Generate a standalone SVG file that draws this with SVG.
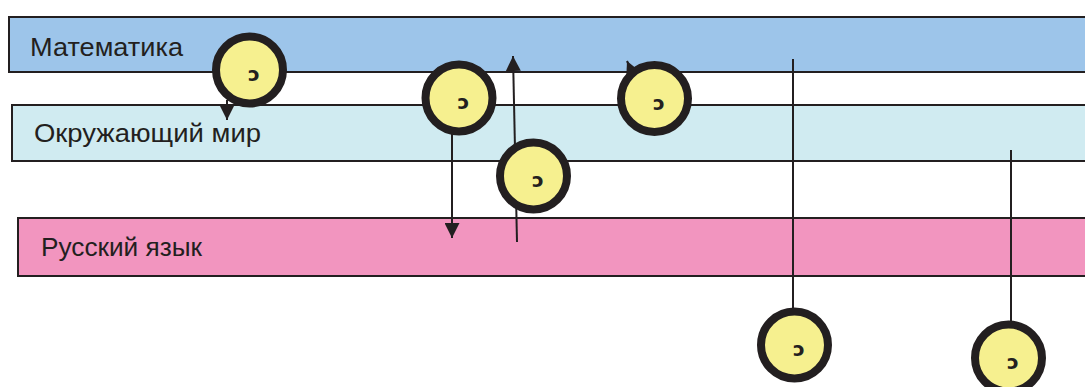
<svg xmlns="http://www.w3.org/2000/svg" width="1085" height="387" viewBox="0 0 1085 387">
<defs>
<style>
.band{stroke:#231f20;stroke-width:2}
.lbl{font-family:"Liberation Sans",Arial,sans-serif;font-size:26px;fill:#231f20}
.con{stroke:#231f20;stroke-width:2;fill:none}
.ring{fill:#f6f08f;stroke:#231f20;stroke-width:8}
.g{font-family:"DejaVu Sans",sans-serif;font-size:20px;font-weight:bold;fill:#231f20;text-anchor:middle}
</style>
<marker id="ah2" viewBox="0 0 10 10" refX="10" refY="5" markerWidth="15" markerHeight="15" markerUnits="userSpaceOnUse" orient="auto">
<path d="M0,0 L10,5 L0,10 z" fill="#231f20"/>
</marker>
</defs>
<rect width="1085" height="387" fill="#ffffff"/>
<g id="band-math">
<rect class="band" x="9" y="17" width="1090" height="55" fill="#9dc5ea"/>
<text class="lbl" x="30" y="56" textLength="153" lengthAdjust="spacingAndGlyphs">Математика</text>
</g>
<g id="band-world">
<rect class="band" x="12" y="105" width="1090" height="56" fill="#d0ebf1"/>
<text class="lbl" x="34" y="142" textLength="227" lengthAdjust="spacingAndGlyphs">Окружающий мир</text>
</g>
<g id="band-russian">
<rect class="band" x="18" y="218" width="1090" height="58" fill="#f295bf"/>
<text class="lbl" x="41" y="256" textLength="161" lengthAdjust="spacingAndGlyphs">Русский язык</text>
</g>
<g id="connectors">
<line class="con" x1="227" y1="100" x2="227" y2="120" marker-end="url(#ah2)"/>
<line class="con" x1="452" y1="130" x2="452" y2="238" marker-end="url(#ah2)"/>
<line class="con" x1="517" y1="242" x2="513" y2="56" marker-end="url(#ah2)"/>
<line class="con" x1="640" y1="90" x2="627" y2="61" marker-end="url(#ah2)"/>
<line class="con" x1="793" y1="310" x2="793" y2="59"/>
<line class="con" x1="1011" y1="322" x2="1011" y2="150"/>
</g>
<g id="node1"><circle class="ring" cx="249.5" cy="70" r="33.5"/><text class="g" x="254" y="81">ɔ</text></g>
<g id="node2"><circle class="ring" cx="459" cy="98" r="33.5"/><text class="g" x="463.5" y="109">ɔ</text></g>
<g id="node3"><circle class="ring" cx="533.5" cy="176" r="33.5"/><text class="g" x="538" y="187">ɔ</text></g>
<g id="node4"><circle class="ring" cx="654.5" cy="98.5" r="33.5"/><text class="g" x="659" y="109.5">ɔ</text></g>
<g id="node5"><circle class="ring" cx="794.5" cy="345" r="33.5"/><text class="g" x="799" y="356">ɔ</text></g>
<g id="node6"><circle class="ring" cx="1008.5" cy="358" r="33.5"/><text class="g" x="1013" y="369">ɔ</text></g>
</svg>
